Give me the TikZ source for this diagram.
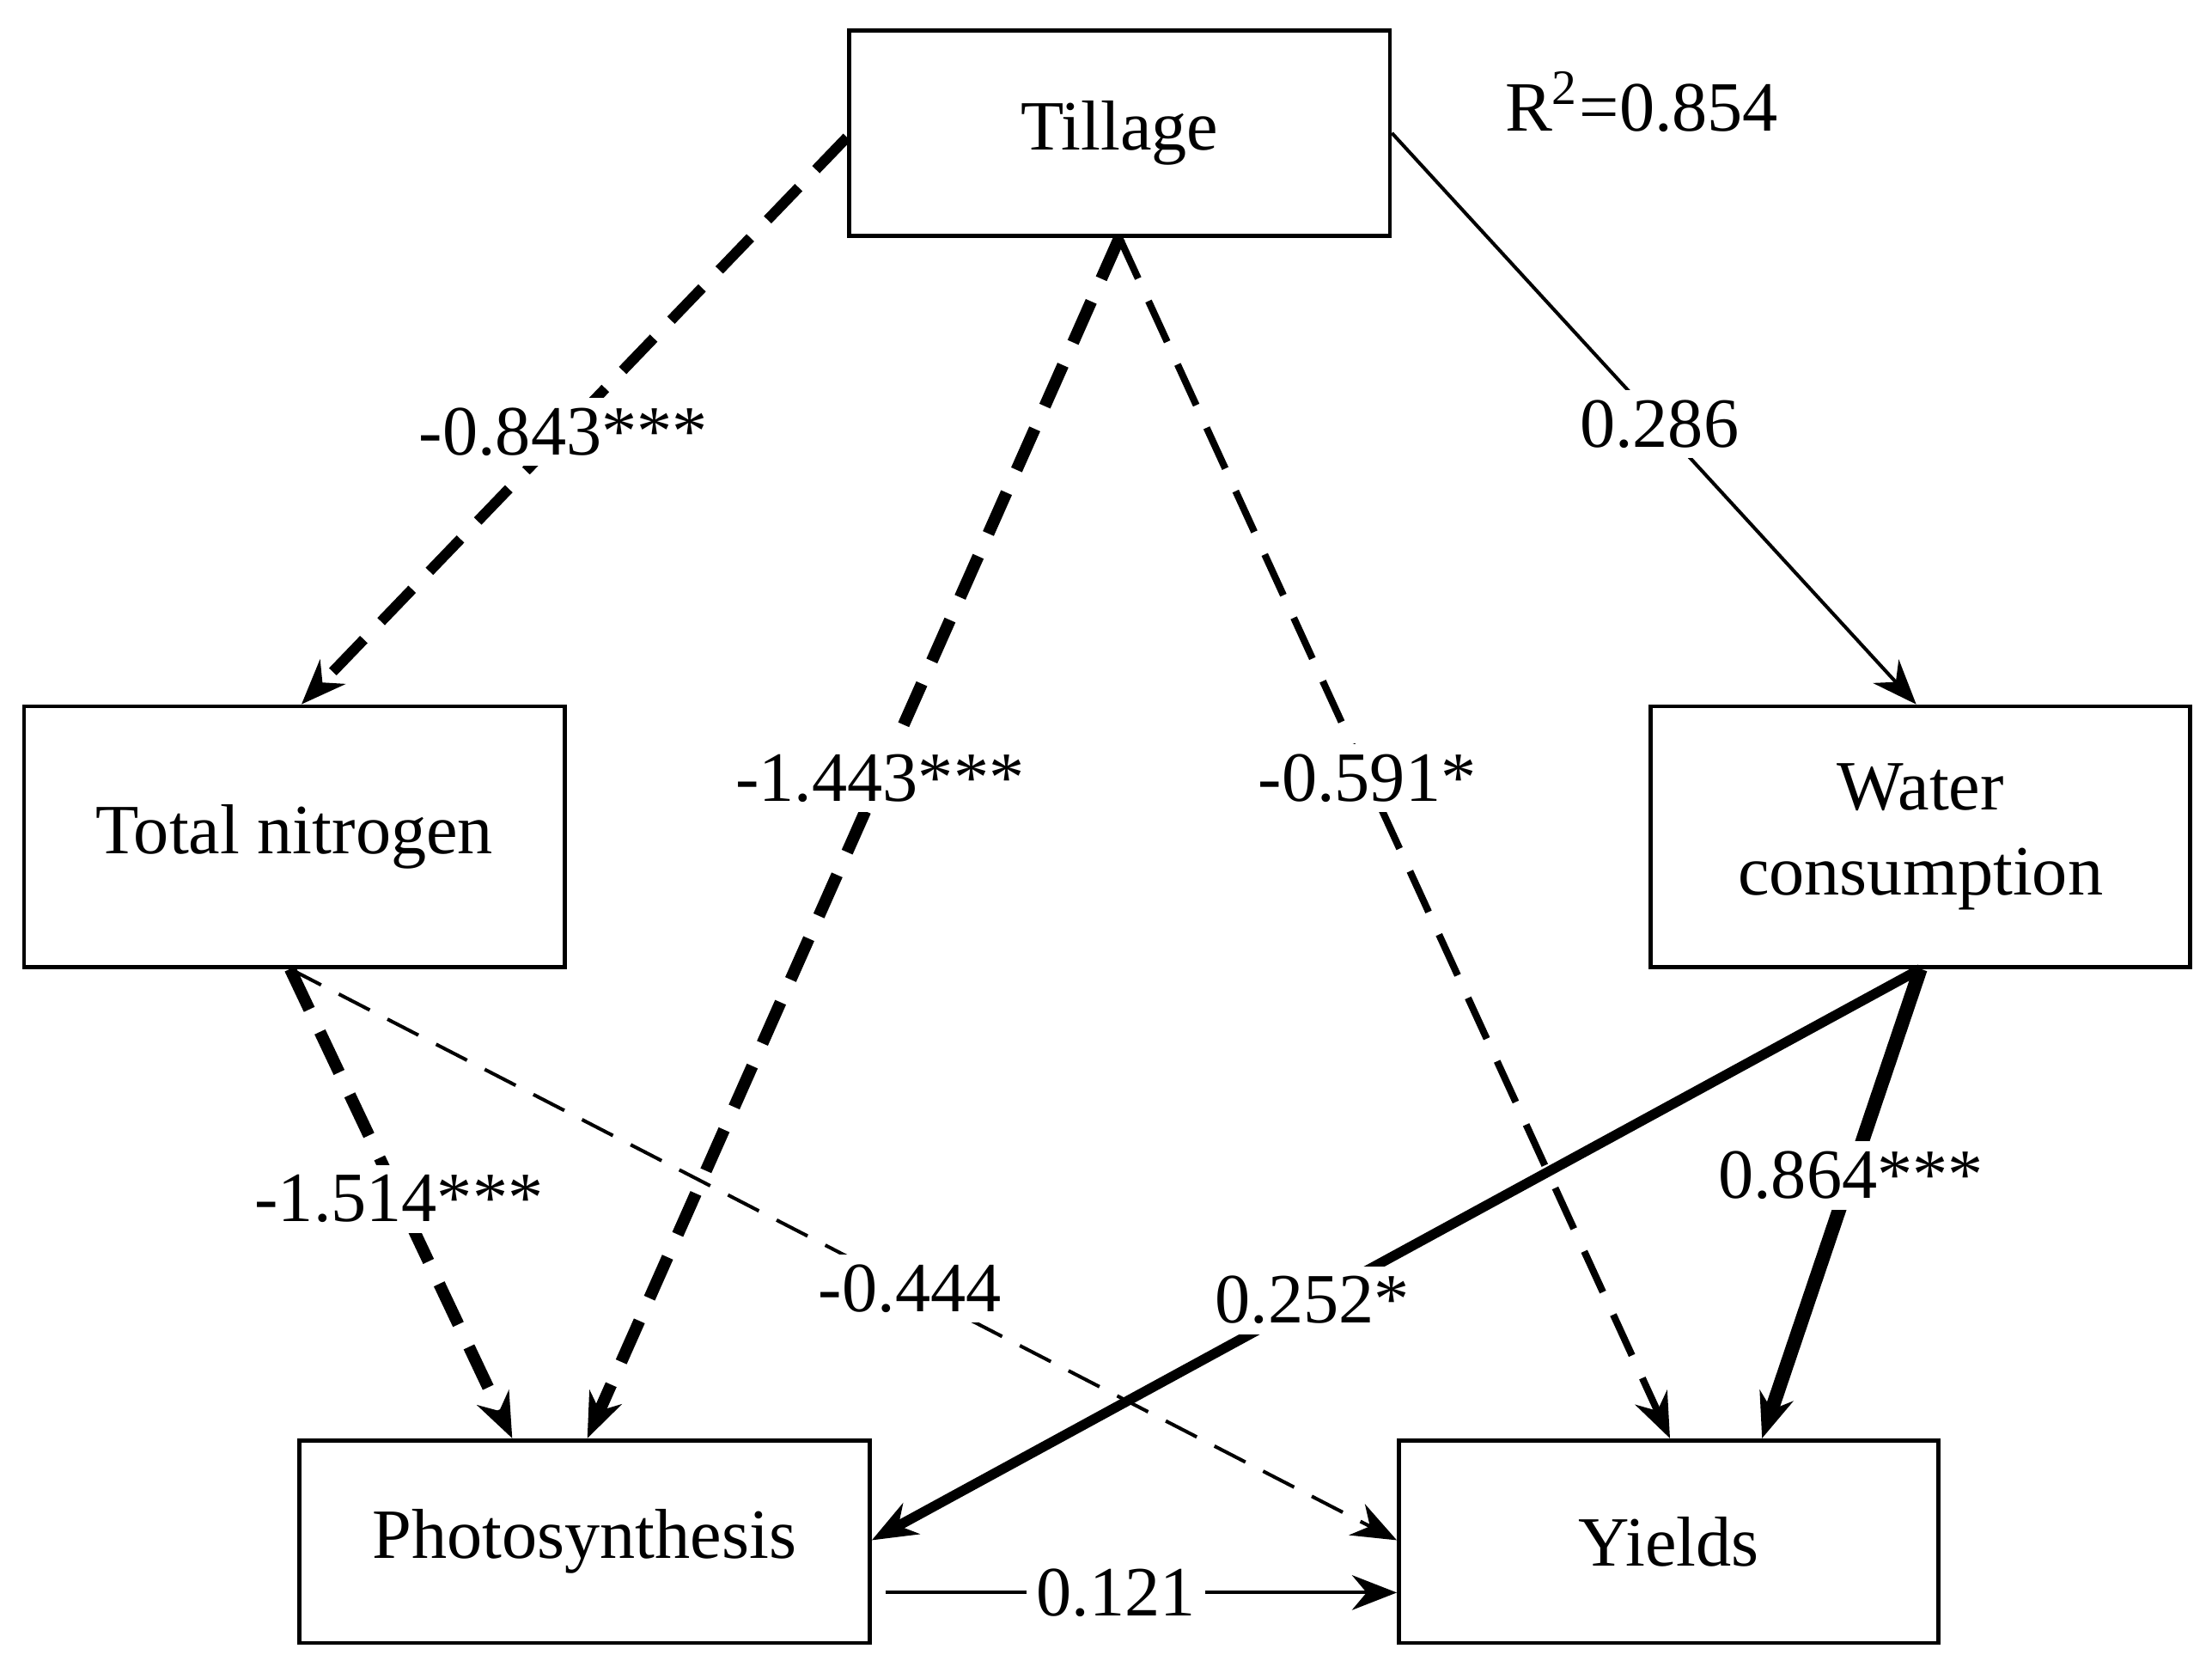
\documentclass[tikz,border=0pt]{standalone}
\usepackage{fontspec}
\setmainfont{Liberation Serif}
\usetikzlibrary{arrows.meta}
\begin{document}
\begin{tikzpicture}[x=0.01cm,y=-0.01cm,
	box/.style={draw,line width=0.8pt,minimum height=#1},
	lab/.style={fill=white,inner sep=2pt,font=\fontsize{14.2}{17}\selectfont},
	path/.style={-{Stealth[length=9pt,width=7pt]},line width=#1},
	dsh/.style={dash pattern=on 9pt off 5pt}]
	\useasboundingbox (0,0) rectangle (1563,1177);
	\begin{scope}[every node/.style={font=\fontsize{14.2}{17}\selectfont,align=center}]
	\node[box=1.45cm,minimum width=3.82cm] (till) at (791,94) {Tillage};
	\node[box=1.84cm,minimum width=3.82cm] (tn) at (208,591) {Total nitrogen};
	\node[box=1.84cm,minimum width=3.81cm] (wc) at (1357,591) {Water\\consumption};
	\node[box=1.43cm,minimum width=4.03cm] (ph) at (413,1089) {Photosynthesis};
	\node[box=1.43cm,minimum width=3.81cm] (yi) at (1179,1089) {Yields};
	\node (r2) at (1160,72) {R\textsuperscript{2}=0.854};
	\end{scope}
	% paths
	\draw[path=2.1pt,dsh] (till.west) ++(0,3) -- ([xshift=0.05cm]tn.north) node[lab,pos=0.52] {-0.843***};
	\draw[path=2.4pt,dsh] (till.south) -- ([xshift=0.02cm]ph.north) node[lab,pos=0.45] {-1.443***};
	\draw[path=1.4pt,dsh] (till.south) -- ([xshift=0.01cm]yi.north) node[lab,pos=0.45] {-0.591*};
	\draw[path=0.7pt] (till.east) -- ([xshift=-0.03cm]wc.north) node[lab,pos=0.51] {0.286};
	\draw[path=2pt] (wc.south) -- ([yshift=0.01cm]ph.east) node[lab,pos=0.58] {0.252*};
	\draw[path=2.8pt] (wc.south) -- ([xshift=0.66cm]yi.north) node[lab,pos=0.44] {0.864***};
	\draw[path=2.4pt,dsh] ([xshift=-0.03cm]tn.south) -- ([xshift=-0.51cm]ph.north) node[lab,pos=0.49] {-1.514***};
	\draw[path=0.7pt,dash pattern=on 7pt off 4pt] ([xshift=-0.03cm]tn.south) -- ([yshift=0.01cm]yi.west) node[lab,pos=0.56] {-0.444};
	\draw[path=0.7pt] ([xshift=0.1cm,yshift=-0.36cm]ph.east) -- ([yshift=-0.36cm]yi.west) node[lab,pos=0.45] {0.121};
\end{tikzpicture}
\end{document}
